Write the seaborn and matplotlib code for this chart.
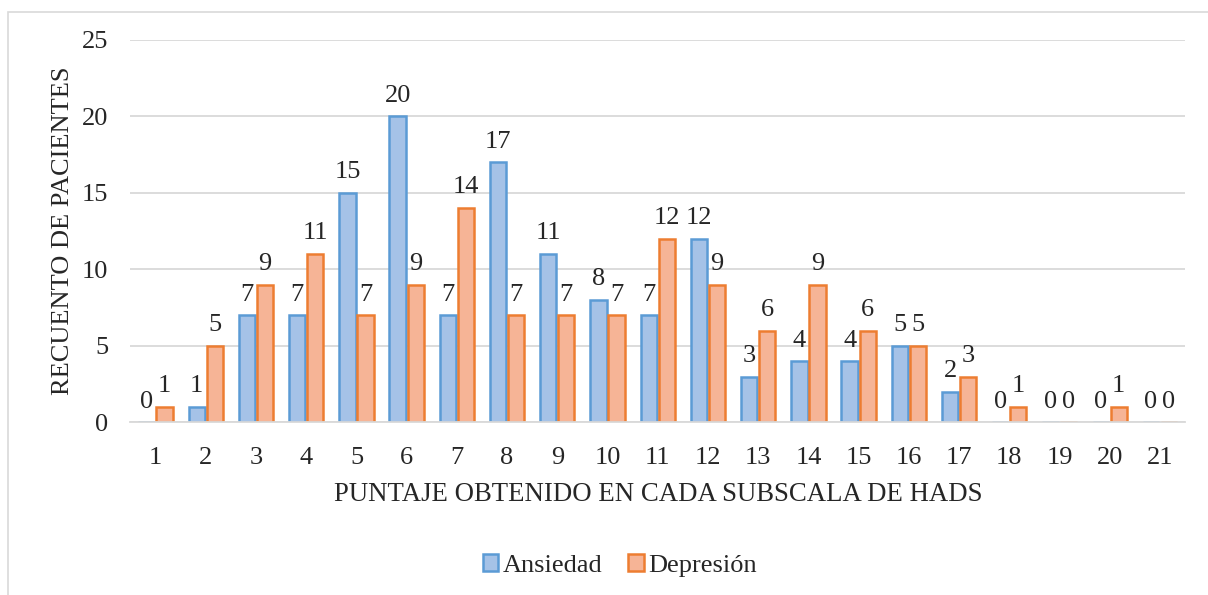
import pandas as pd
import matplotlib.pyplot as plt
import matplotlib.patches as mpatches
import seaborn as sns

# Puntajes 1..21 de la escala HADS
puntajes = [str(i) for i in range(1, 22)]
ansiedad = [0, 1, 7, 7, 15, 20, 7, 17, 11, 8, 7, 12, 3, 4, 4, 5, 2, 0, 0, 0, 0]
depresion = [1, 5, 9, 11, 7, 9, 14, 7, 7, 7, 12, 9, 6, 9, 6, 5, 3, 1, 0, 1, 0]
series = ["Ansiedad", "Depresión"]

df = pd.DataFrame({
    "Puntaje": puntajes * 2,
    "Serie": [series[0]] * len(puntajes) + [series[1]] * len(puntajes),
    "Pacientes": ansiedad + depresion,
})

fill = {"Ansiedad": "#a5c2e7", "Depresión": "#f6b496"}
edge = {"Ansiedad": "#5b9bd5", "Depresión": "#ed7d31"}
fs = 19

sns.set_style("white")
plt.rcParams["font.family"] = ["Liberation Serif", "DejaVu Serif"]

fig = plt.figure(figsize=(12.08, 5.95), dpi=100)
ax = fig.add_axes([0.108, 0.29, 0.873, 0.643])

sns.barplot(data=df, x="Puntaje", y="Pacientes", hue="Serie", order=puntajes,
            hue_order=series, palette=fill, saturation=1, width=0.72, gap=0.1,
            linewidth=1.8, ax=ax, legend=False)

# bordes de cada serie
for container, s in zip(ax.containers, series):
    for bar in container:
        bar.set_edgecolor(edge[s])
    ax.bar_label(container, fontsize=fs, padding=7)

ax.set_ylim(0, 25)
ax.set_yticks(range(0, 26, 5))
ax.set_xlim(-0.5, len(puntajes) - 0.5)
ax.grid(axis="y", color="#d9d9d9", linewidth=1.3)
ax.set_axisbelow(True)
for side in ["top", "right", "left"]:
    ax.spines[side].set_visible(False)
ax.spines["bottom"].set_color("#d9d9d9")
ax.spines["bottom"].set_linewidth(1.3)
ax.tick_params(axis="both", length=0, labelsize=fs)
ax.tick_params(axis="x", pad=18)
ax.tick_params(axis="y", pad=16)

ax.set_xlabel("PUNTAJE OBTENIDO EN CADA SUBSCALA DE HADS", fontsize=19.3, labelpad=9)
ax.set_ylabel("RECUENTO DE PACIENTES", fontsize=fs, labelpad=6)

handles = [mpatches.Patch(facecolor=fill[s], edgecolor=edge[s], linewidth=1.8, label=s)
           for s in series]
fig.legend(handles=handles, loc="center", bbox_to_anchor=(0.513, 0.05), ncol=2,
           frameon=False, fontsize=fs, handlelength=0.6, handleheight=0.6,
           handletextpad=0.15, columnspacing=1.0)

# marco del gráfico
fig.add_artist(mpatches.Rectangle((8 / 1208, -0.01), 1.02, 1 - 12 / 595 + 0.01,
                                  transform=fig.transFigure, fill=False,
                                  edgecolor="#d9d9d9", linewidth=1.2))

fig.savefig("out.png", dpi=100)
